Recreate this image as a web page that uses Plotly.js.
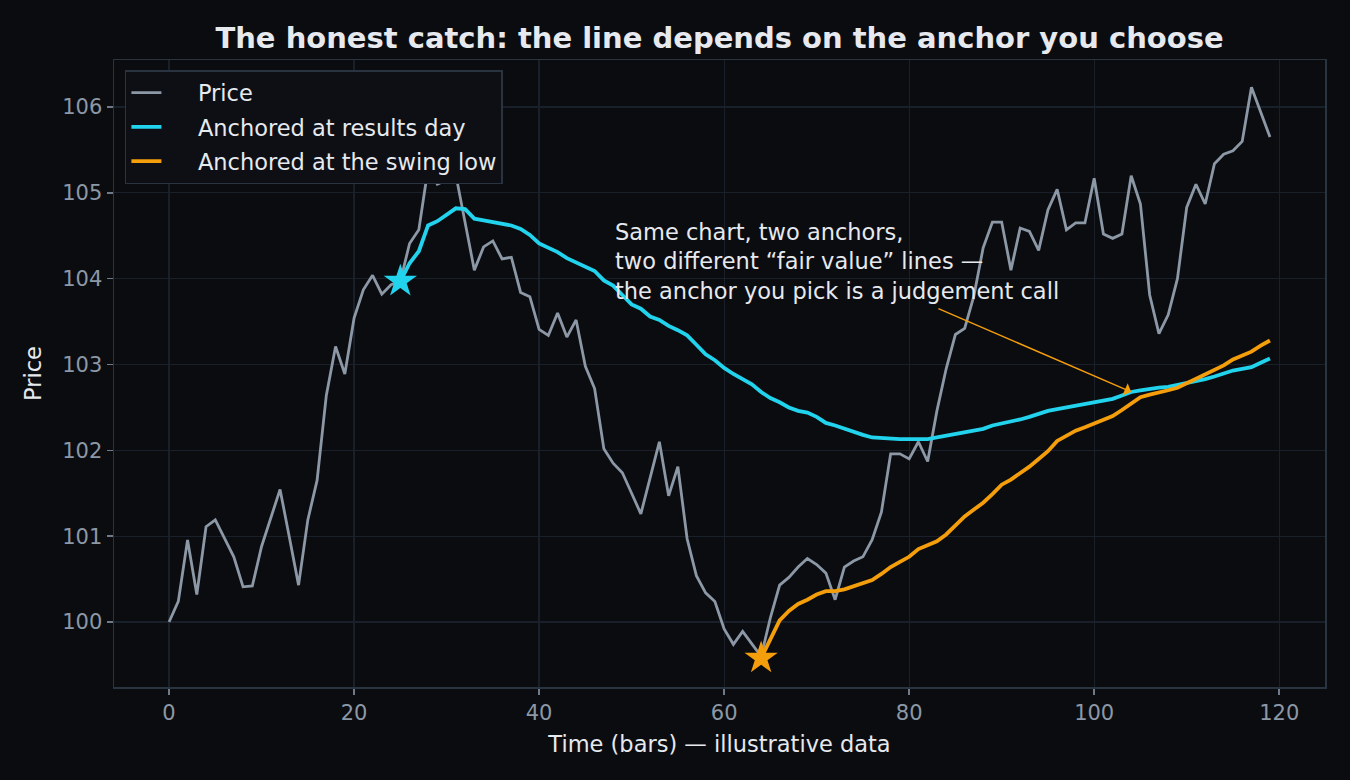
<!DOCTYPE html>
<html>
<head>
<meta charset="utf-8">
<script src="https://cdn.plot.ly/plotly-3.0.1.min.js"></script>
<style>
  html, body { margin: 0; padding: 0; background: #0b0c10; }
  #chart { width: 1350px; height: 780px; }
</style>
</head>
<body>
<div id="chart"></div>
<script>
// price path, one value per bar
const price = [
  100.00, 100.24, 100.955, 100.32, 101.11, 101.19, 100.975, 100.76, 100.41, 100.42,
  100.88, 101.21, 101.545, 100.99, 100.43, 101.19, 101.65, 102.64, 103.21, 102.89,
  103.54, 103.87, 104.04, 103.82, 103.93, 103.97, 104.41, 104.57, 105.29, 105.10,
  105.15, 105.21, 104.65, 104.10, 104.37, 104.44, 104.23, 104.25, 103.84, 103.79,
  103.41, 103.34, 103.60, 103.32, 103.52, 102.98, 102.72, 102.02, 101.85, 101.74,
  101.50, 101.26, 101.68, 102.10, 101.47, 101.81, 100.97, 100.54, 100.34, 100.24,
  99.92, 99.74, 99.89, 99.74, 99.60, 100.05, 100.43, 100.52, 100.64, 100.74,
  100.67, 100.57, 100.26, 100.64, 100.71, 100.76, 100.96, 101.28, 101.96, 101.96,
  101.90, 102.10, 101.87, 102.46, 102.95, 103.35, 103.42, 103.80, 104.36, 104.66,
  104.66, 104.10, 104.59, 104.55, 104.33, 104.80, 105.04, 104.57, 104.65, 104.65,
  105.17, 104.52, 104.47, 104.52, 105.20, 104.87, 103.81, 103.36, 103.58, 104.00,
  104.83, 105.10, 104.87, 105.34, 105.45, 105.49, 105.60, 106.23, 105.95, 105.65
];

// anchor bars
const resultsDay = 25;
const swingLow = 64;

// anchored line from the results day (bar 25 onwards)
const vwapResults = [
  103.97, 104.18, 104.32, 104.62, 104.67, 104.74, 104.82, 104.81, 104.70, 104.68,
  104.66, 104.64, 104.62, 104.58, 104.51, 104.41, 104.36, 104.31, 104.24, 104.19,
  104.13, 104.09, 103.98, 103.92, 103.81, 103.70, 103.65, 103.56, 103.52, 103.45,
  103.40, 103.34, 103.23, 103.12, 103.05, 102.96, 102.89, 102.83, 102.77, 102.68,
  102.61, 102.56, 102.50, 102.46, 102.44, 102.39, 102.32, 102.29, 102.25, 102.21,
  102.18, 102.15, 102.14, 102.14, 102.13, 102.13, 102.13, 102.13, 102.15, 102.17,
  102.18, 102.20, 102.22, 102.25, 102.29, 102.31, 102.33, 102.36, 102.39, 102.43,
  102.46, 102.48, 102.50, 102.52, 102.54, 102.56, 102.57, 102.60, 102.64, 102.68,
  102.70, 102.72, 102.73, 102.74, 102.76, 102.79, 102.81, 102.83, 102.86, 102.90,
  102.93, 102.95, 102.97, 103.02, 103.07
];

// anchored line from the swing low (bar 64 onwards)
const vwapSwing = [
  99.58, 99.81, 100.02, 100.13, 100.21, 100.26, 100.32, 100.36, 100.36, 100.38,
  100.42, 100.46, 100.49, 100.56, 100.64, 100.70, 100.76, 100.85, 100.89, 100.94,
  101.02, 101.13, 101.23, 101.31, 101.39, 101.49, 101.60, 101.66, 101.73, 101.81,
  101.90, 101.99, 102.11, 102.17, 102.23, 102.27, 102.31, 102.35, 102.40, 102.47,
  102.55, 102.62, 102.65, 102.67, 102.70, 102.73, 102.78, 102.84, 102.88, 102.93,
  102.99, 103.06, 103.10, 103.15, 103.22, 103.28
];

const noteBar = 104;
const noteText = "Same chart, two anchors,<br>two different \u201cfair value\u201d lines \u2014<br>the anchor you pick is a judgement call";

const bars = price.map((_, i) => i);
const barsFrom = (start, arr) => arr.map((_, i) => start + i);

const cyan = "#22d3ee";
const orange = "#f59e0b";
const font = "DejaVu Sans, sans-serif";
const pad = "\u2002\u2002\u2009\u2009"; // nudges legend text right like the original

const data = [
  {
    x: bars, y: price, type: "scatter", mode: "lines", name: pad + "Price",
    legendgroup: "p",
    line: { color: "#8c98a6", width: 2.8 }
  },
  {
    x: barsFrom(resultsDay, vwapResults), y: vwapResults, type: "scatter", mode: "lines",
    name: pad + "Anchored at results day", legendgroup: "r",
    line: { color: cyan, width: 3.8 }
  },
  {
    x: barsFrom(swingLow, vwapSwing), y: vwapSwing, type: "scatter", mode: "lines",
    name: pad + "Anchored at the swing low", legendgroup: "s",
    line: { color: orange, width: 3.8 }
  },
  {
    x: [resultsDay], y: [vwapResults[0]], type: "scatter", mode: "markers",
    showlegend: false, hoverinfo: "skip",
    marker: { symbol: "star", size: 25, color: cyan, line: { width: 0 } }
  },
  {
    x: [swingLow], y: [vwapSwing[0]], type: "scatter", mode: "markers",
    showlegend: false, hoverinfo: "skip",
    marker: { symbol: "star", size: 25, color: orange, line: { width: 0 } }
  }
];

const layout = {
  width: 1350, height: 780,
  paper_bgcolor: "#0b0c10",
  plot_bgcolor: "#0b0c10",
  font: { family: font, color: "#e6e9ee", size: 21 },
  margin: { l: 114, r: 25, t: 60, b: 93 },
  title: {
    text: "<b>The honest catch: the line depends on the anchor you choose</b>",
    font: { family: font, size: 29, color: "#e6e9ee" },
    x: 0.5, xref: "paper", xanchor: "center", y: 0.951, yanchor: "middle"
  },
  xaxis: {
    range: [-5.95, 124.95],
    tickvals: [0, 20, 40, 60, 80, 100, 120],
    showgrid: true, gridcolor: "#1a2029", gridwidth: 1.2,
    zeroline: false,
    showline: true, linecolor: "#2a3340", linewidth: 1.5, mirror: true,
    ticks: "outside", ticklen: 6, tickwidth: 1.5, tickcolor: "#6f7b88",
    tickfont: { family: font, size: 21, color: "#8c98a6" },
    title: { text: "Time (bars) \u2014 illustrative data", font: { family: font, size: 22.5, color: "#e6e9ee" }, standoff: 12 }
  },
  yaxis: {
    range: [99.243, 106.548],
    tickvals: [100, 101, 102, 103, 104, 105, 106],
    showgrid: true, gridcolor: "#1a2029", gridwidth: 1.2,
    zeroline: false,
    showline: true, linecolor: "#2a3340", linewidth: 1.5, mirror: true,
    ticks: "outside", ticklen: 6, tickwidth: 1.5, tickcolor: "#6f7b88",
    tickfont: { family: font, size: 21, color: "#8c98a6" },
    title: { text: "Price", font: { family: font, size: 22.5, color: "#e6e9ee" }, standoff: 14 }
  },
  legend: {
    x: 0.009, y: 0.984, xanchor: "left", yanchor: "top",
    bgcolor: "#0d0f14", bordercolor: "#2a3340", borderwidth: 1.5,
    font: { family: font, size: 22.5, color: "#e6e9ee" },
    tracegroupgap: 2
  },
  showlegend: true,
  annotations: [
    {
      x: 48, y: 104.72, xref: "x", yref: "y",
      xanchor: "left", yanchor: "top", align: "left",
      text: noteText, showarrow: false,
      font: { family: font, size: 22.5, color: "#e6e9ee" }
    },
    {
      x: noteBar, y: vwapResults[noteBar - resultsDay], xref: "x", yref: "y",
      ax: 83, ay: 103.66, axref: "x", ayref: "y",
      text: "", showarrow: true,
      arrowhead: 1, arrowsize: 1.6, arrowwidth: 1.4, arrowcolor: orange
    }
  ]
};

Plotly.newPlot("chart", data, layout, { displayModeBar: false, staticPlot: true });
</script>
</body>
</html>
